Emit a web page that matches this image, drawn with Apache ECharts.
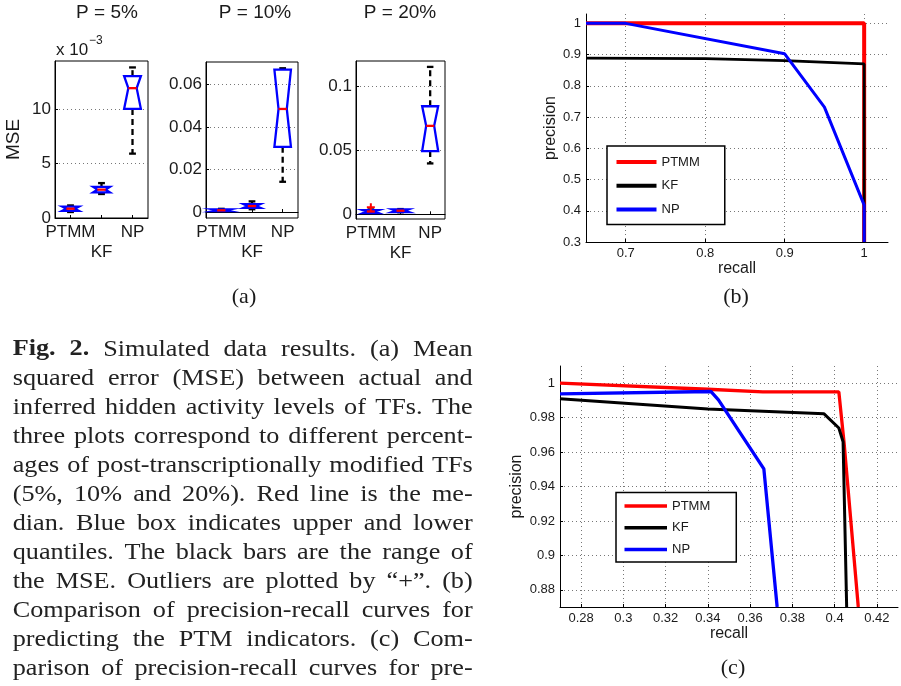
<!DOCTYPE html>
<html><head><meta charset="utf-8">
<script src="https://cdn.jsdelivr.net/npm/echarts@6/dist/echarts.min.js"></script>
<style>html,body{margin:0;padding:0;background:#fff}#c{width:901px;height:686px}</style>
</head><body><div id="c"></div>
<script>
// ---------- DATA ----------
const boxCats = ['PTMM', 'KF', 'NP'];
// each row: [lowWhisker, q1, median, q3, highWhisker]
const box5 = [[0.55, 0.65, 0.85, 1.05, 1.15], [2.2, 2.35, 2.6, 2.85, 3.2], [5.9, 10.0, 11.9, 13.0, 13.8]]; // x 10^-3
const box10 = [[0.0002, 0.0004, 0.0008, 0.0012, 0.0015], [0.0013, 0.002, 0.0028, 0.0037, 0.005], [0.0142, 0.0306, 0.0484, 0.0669, 0.0675]];
const box20 = [[0.0005, 0.0009, 0.0022, 0.0033, 0.0038], [0.0016, 0.0018, 0.0028, 0.0039, 0.0041], [0.0397, 0.0493, 0.069, 0.0843, 0.115]];
const outliers20 = [[0, 0.0055]];
const ticks5 = [0, 5, 10];
const ticks10 = [0, 0.02, 0.04, 0.06];
const ticks20 = [0, 0.05, 0.1];

const bRecallTicks = [0.7, 0.8, 0.9, 1];
const bPrecTicks = [0.3, 0.4, 0.5, 0.6, 0.7, 0.8, 0.9, 1];
const bPTMM_x = [0.65, 1, 1], bPTMM_y = [1, 1, 0.3];
const bKF_x = [0.65, 0.8, 0.9, 1, 1], bKF_y = [0.889, 0.887, 0.881, 0.87, 0.3];
const bNP_x = [0.65, 0.7, 0.9, 0.95, 1, 1], bNP_y = [1, 1, 0.9025, 0.732, 0.418, 0.3];

const cRecallTicks = [0.28, 0.3, 0.32, 0.34, 0.36, 0.38, 0.4, 0.42];
const cPrecTicks = [0.88, 0.9, 0.92, 0.94, 0.96, 0.98, 1];
const cPTMM_x = [0.27, 0.34, 0.366, 0.402, 0.4045, 0.4112], cPTMM_y = [1.0, 0.9965, 0.995, 0.995, 0.965, 0.87];
const cKF_x = [0.27, 0.34, 0.395, 0.402, 0.404, 0.4057], cKF_y = [0.991, 0.985, 0.9822, 0.974, 0.966, 0.87];
const cNP_x = [0.27, 0.3414, 0.345, 0.3665, 0.3728], cNP_y = [0.9938, 0.9952, 0.9903, 0.9502, 0.87];

const captionLines = [
  'Fig. 2. Simulated data results. (a) Mean',
  'squared error (MSE) between actual and',
  'inferred hidden activity levels of TFs. The',
  'three plots correspond to different percent-',
  'ages of post-transcriptionally modified TFs',
  '(5%, 10% and 20%). Red line is the me-',
  'dian. Blue box indicates upper and lower',
  'quantiles. The black bars are the range of',
  'the MSE. Outliers are plotted by \u201c+\u201d. (b)',
  'Comparison of precision-recall curves for',
  'predicting the PTM indicators. (c) Com-',
  'parison of precision-recall curves for pre-'
];

// ---------- HELPERS ----------
const SANS = '"Liberation Sans", Arial, sans-serif';
const SERIF = '"Liberation Serif", "Times New Roman", serif';
const pairs = (xs, ys) => xs.map((x, i) => [x, ys[i]]);
const boxData = (rows) => rows.map((r, i) => [i].concat(r));

function boxRender(params, api) {
  const i = api.value(0);
  const c = (v) => api.coord([i, v]);
  const band = api.size([1, 0])[0];
  const hw = band * 0.27, inset = hw * 0.5, cap = band * 0.11;
  const x = c(api.value(3))[0];
  const ylo = c(api.value(1))[1], yq1 = c(api.value(2))[1], ym = c(api.value(3))[1];
  const yq3 = c(api.value(4))[1], yhi = c(api.value(5))[1];
  const lw = 2.3;
  return { type: 'group', children: [
    { type: 'line', shape: { x1: x, y1: yq3, x2: x, y2: yhi }, style: { stroke: '#000', lineWidth: lw, lineDash: [6, 4] } },
    { type: 'line', shape: { x1: x, y1: yq1, x2: x, y2: ylo }, style: { stroke: '#000', lineWidth: lw, lineDash: [6, 4] } },
    { type: 'line', shape: { x1: x - cap, y1: yhi, x2: x + cap, y2: yhi }, style: { stroke: '#000', lineWidth: lw } },
    { type: 'line', shape: { x1: x - cap, y1: ylo, x2: x + cap, y2: ylo }, style: { stroke: '#000', lineWidth: lw } },
    { type: 'polygon', shape: { points: [[x - hw, yq3], [x - hw + inset, ym], [x - hw, yq1], [x + hw, yq1], [x + hw - inset, ym], [x + hw, yq3]] },
      style: { fill: 'none', stroke: '#0000ff', lineWidth: lw } },
    { type: 'line', shape: { x1: x - hw + inset, y1: ym, x2: x + hw - inset, y2: ym }, style: { stroke: '#ff0000', lineWidth: lw } }
  ] };
}
function plusRender(params, api) {
  const p = api.coord([api.value(0), api.value(1)]);
  const s = 4;
  return { type: 'group', children: [
    { type: 'line', shape: { x1: p[0] - s, y1: p[1], x2: p[0] + s, y2: p[1] }, style: { stroke: '#ff0000', lineWidth: 2 } },
    { type: 'line', shape: { x1: p[0], y1: p[1] - s, x2: p[0], y2: p[1] + s }, style: { stroke: '#ff0000', lineWidth: 2 } }
  ] };
}

const dotted = { show: true, lineStyle: { color: '#777', width: 1, type: [1, 3] } };
function boxX(gi) {
  return { type: 'category', gridIndex: gi, data: boxCats, boundaryGap: true,
    axisLine: { lineStyle: { color: '#000', width: 1 } },
    axisTick: { show: true, inside: true, alignWithLabel: true, length: 3, lineStyle: { color: '#000' } },
    axisLabel: { color: '#1a1a1a', fontSize: 17, fontFamily: SANS, margin: 4, lineHeight: 20, interval: 0,
      formatter: (v) => v === 'KF' ? '\nKF' : v },
    splitLine: { show: false } };
}
function boxY(gi, min, max, ticks, extra) {
  return Object.assign({ type: 'value', gridIndex: gi, min: min, max: max,
    axisLine: { show: true, lineStyle: { color: '#000', width: 1 } },
    axisTick: { show: true, inside: true, length: 3, customValues: ticks, lineStyle: { color: '#000' } },
    axisLabel: { color: '#1a1a1a', fontSize: 17, fontFamily: SANS, margin: 4, customValues: ticks, formatter: (v) => String(+v.toFixed(4)) },
    splitLine: dotted }, extra || {});
}
function lineAxis(type, gi, min, max, ticks, name, nameGap, extra) {
  return Object.assign({ type: 'value', gridIndex: gi, min: min, max: max,
    name: name, nameLocation: 'middle', nameGap: nameGap,
    nameTextStyle: { color: '#1a1a1a', fontSize: 16, fontFamily: SANS },
    axisLine: { show: true, lineStyle: { color: '#000', width: 1 } },
    axisTick: { show: true, inside: true, length: 3, customValues: ticks, lineStyle: { color: '#000' } },
    axisLabel: { color: '#1a1a1a', fontSize: 13, fontFamily: SANS, margin: 5, customValues: ticks, formatter: (v) => String(+v.toFixed(4)) },
    splitLine: dotted }, extra || {});
}
function lineSeries(name, color, width, xi, data) {
  return { type: 'line', name: name, xAxisIndex: xi, yAxisIndex: xi, data: data, showSymbol: false, symbol: 'none',
    lineStyle: { color: color, width: width }, itemStyle: { color: color }, clip: true, z: 3 };
}

// ---------- caption (justified words, widened glyphs like Computer Modern) ----------
const graphics = [];
const ctx = document.createElement('canvas').getContext('2d');
const capSize = 23, capLeft = 12.7, capRight = 472.7;
const capFonts = captionLines.map((line, li) => line.split(' ').map((w, wi) => (li === 0 && wi < 2 ? 'bold ' : '') + capSize + 'px ' + SERIF));
const capWidths = captionLines.map((line, li) => line.split(' ').map((w, wi) => { ctx.font = capFonts[li][wi]; return ctx.measureText(w).width; }));
// horizontal glyph scale chosen so the tightest line (index 4) has ~8px word gaps
const refW = capWidths[4].reduce((a, b) => a + b, 0);
const sx = (capRight - capLeft - 8 * (capWidths[4].length - 1)) / refW;
captionLines.forEach((line, li) => {
  const words = line.split(' ');
  const widths = capWidths[li].map(w => w * sx);
  const total = widths.reduce((a, b) => a + b, 0);
  const gap = (capRight - capLeft - total) / (words.length - 1);
  let x = capLeft;
  const y = 357.3 + li * 29.04 - 7.8;
  words.forEach((w, wi) => {
    graphics.push({ type: 'text', x: x, y: y, scaleX: sx, style: { text: w, font: capFonts[li][wi], fill: '#222', align: 'left', verticalAlign: 'middle' } });
    x += widths[wi] + gap + (li === 0 && wi === 1 ? 0 : 0);
  });
});
const lbl = (text, x, y, font, align) => ({ type: 'text', x: x, y: y, style: { text: text, font: font, fill: '#1a1a1a', align: align || 'center', verticalAlign: 'middle' } });
graphics.push(lbl('P = 5%', 107, 13, '19px ' + SANS));
graphics.push(lbl('P = 10%', 255, 13, '19px ' + SANS));
graphics.push(lbl('P = 20%', 400, 13, '19px ' + SANS));
graphics.push(lbl('x 10', 56, 50, '17px ' + SANS, 'left'));
graphics.push(lbl('\u22123', 89, 41, '12px ' + SANS, 'left'));
graphics.push(lbl('(a)', 244, 297, '22px ' + SERIF));
graphics.push(lbl('(b)', 736, 297, '22px ' + SERIF));
graphics.push(lbl('(c)', 733, 668, '22px ' + SERIF));

const legendCommon = { orient: 'vertical', icon: 'rect', itemWidth: 40, backgroundColor: '#fff', borderColor: '#000', borderWidth: 1.5,
  borderRadius: 0, data: ['PTMM', 'KF', 'NP'], selectedMode: false,
  textStyle: { color: '#1a1a1a', fontSize: 13, fontFamily: SANS, lineHeight: 16 } };

const option = {
  animation: false,
  backgroundColor: '#fff',
  textStyle: { fontFamily: SANS },
  grid: [
    { left: 55, top: 61, width: 93, height: 157, show: true, borderColor: '#000', borderWidth: 1, backgroundColor: 'transparent' },
    { left: 206, top: 62, width: 92, height: 156, show: true, borderColor: '#000', borderWidth: 1, backgroundColor: 'transparent' },
    { left: 356, top: 61, width: 89, height: 158, show: true, borderColor: '#000', borderWidth: 1, backgroundColor: 'transparent' },
    { left: 586, top: 14, width: 302, height: 228 },
    { left: 560, top: 366, width: 338, height: 241 }
  ],
  xAxis: [boxX(0), boxX(1), boxX(2),
    lineAxis('x', 3, 0.65, 1.03, bRecallTicks, 'recall', 18),
    lineAxis('x', 4, 0.27, 0.43, cRecallTicks, 'recall', 19)],
  yAxis: [
    boxY(0, 0, 14.39, ticks5, { name: 'MSE', nameLocation: 'middle', nameGap: 32, nameTextStyle: { color: '#1a1a1a', fontSize: 19, fontFamily: SANS } }),
    boxY(1, -0.00281, 0.07045, ticks10),
    boxY(2, -0.00366, 0.1196, ticks20),
    lineAxis('y', 3, 0.3, 1.03, bPrecTicks, 'precision', 26),
    lineAxis('y', 4, 0.87, 1.01, cPrecTicks, 'precision', 35)
  ],
  legend: [
    Object.assign({}, legendCommon, { left: 607, top: 146, padding: [8, 25, 7, 9.5], itemGap: 7.8, itemHeight: 4 }),
    Object.assign({}, legendCommon, { left: 616, top: 492.5, padding: [5.5, 26, 4.5, 8.5], itemGap: 5.8, itemWidth: 42.5, itemHeight: 3.5 })
  ],
  graphic: graphics,
  series: [
    { type: 'custom', xAxisIndex: 0, yAxisIndex: 0, renderItem: boxRender, data: boxData(box5), encode: { x: 0, y: [1, 2, 3, 4, 5] }, z: 5 },
    { type: 'custom', xAxisIndex: 1, yAxisIndex: 1, renderItem: boxRender, data: boxData(box10), encode: { x: 0, y: [1, 2, 3, 4, 5] }, z: 5 },
    { type: 'custom', xAxisIndex: 2, yAxisIndex: 2, renderItem: boxRender, data: boxData(box20), encode: { x: 0, y: [1, 2, 3, 4, 5] }, z: 5 },
    { type: 'custom', xAxisIndex: 2, yAxisIndex: 2, renderItem: plusRender, data: outliers20, encode: { x: 0, y: 1 }, z: 6 },
    lineSeries('PTMM', '#ff0000', 4, 3, pairs(bPTMM_x, bPTMM_y)),
    lineSeries('KF', '#000000', 2.7, 3, pairs(bKF_x, bKF_y)),
    lineSeries('NP', '#0000ff', 3, 3, pairs(bNP_x, bNP_y)),
    lineSeries('PTMM', '#ff0000', 3.3, 4, pairs(cPTMM_x, cPTMM_y)),
    lineSeries('KF', '#000000', 3, 4, pairs(cKF_x, cKF_y)),
    lineSeries('NP', '#0000ff', 3.3, 4, pairs(cNP_x, cNP_y))
  ]
};
const chart = echarts.init(document.getElementById('c'), null, { renderer: 'canvas' });
chart.setOption(option);
</script></body></html>
